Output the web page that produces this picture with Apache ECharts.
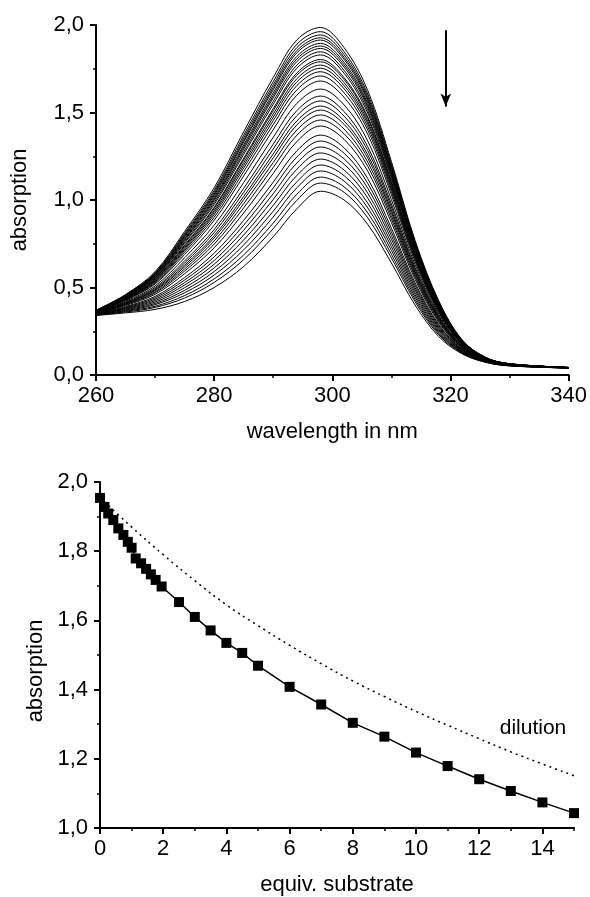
<!DOCTYPE html>
<html>
<head>
<meta charset="utf-8">
<script src="https://cdn.jsdelivr.net/npm/echarts@6/dist/echarts.min.js"></script>
<style>
  html, body { margin: 0; padding: 0; background: #fff; }
  #chart { width: 590px; height: 897px; }
</style>
</head>
<body>
<div id="chart"></div>
<script>
// top panel: absorption spectra during the titration
const wavelengths = [260, 265, 270, 275, 280, 285, 290, 294, 298, 302, 306, 310, 314, 318, 322, 326, 330, 340]
const spectra = [
  [0.370, 0.460, 0.590, 0.820, 1.070, 1.390, 1.700, 1.915, 1.986, 1.870, 1.625, 1.220, 0.770, 0.425, 0.200, 0.100, 0.065, 0.043],
  [0.369, 0.457, 0.584, 0.810, 1.055, 1.370, 1.676, 1.890, 1.962, 1.847, 1.605, 1.205, 0.760, 0.420, 0.198, 0.099, 0.064, 0.043],
  [0.369, 0.455, 0.580, 0.802, 1.044, 1.355, 1.658, 1.871, 1.943, 1.830, 1.590, 1.193, 0.753, 0.416, 0.196, 0.099, 0.064, 0.043],
  [0.368, 0.453, 0.576, 0.795, 1.034, 1.341, 1.643, 1.854, 1.927, 1.815, 1.577, 1.183, 0.747, 0.412, 0.195, 0.098, 0.064, 0.043],
  [0.368, 0.452, 0.573, 0.789, 1.026, 1.331, 1.630, 1.841, 1.914, 1.803, 1.566, 1.175, 0.742, 0.409, 0.194, 0.098, 0.064, 0.043],
  [0.367, 0.450, 0.569, 0.781, 1.015, 1.315, 1.612, 1.821, 1.895, 1.786, 1.551, 1.164, 0.734, 0.405, 0.192, 0.097, 0.064, 0.043],
  [0.367, 0.448, 0.566, 0.775, 1.006, 1.303, 1.597, 1.806, 1.880, 1.772, 1.539, 1.154, 0.728, 0.402, 0.191, 0.097, 0.064, 0.043],
  [0.366, 0.447, 0.562, 0.769, 0.997, 1.291, 1.584, 1.791, 1.866, 1.759, 1.527, 1.146, 0.723, 0.399, 0.190, 0.096, 0.063, 0.043],
  [0.366, 0.444, 0.558, 0.760, 0.985, 1.275, 1.564, 1.771, 1.847, 1.740, 1.511, 1.134, 0.715, 0.394, 0.188, 0.096, 0.063, 0.043],
  [0.365, 0.442, 0.554, 0.753, 0.974, 1.261, 1.547, 1.753, 1.829, 1.724, 1.496, 1.123, 0.708, 0.391, 0.187, 0.095, 0.063, 0.042],
  [0.364, 0.439, 0.548, 0.742, 0.958, 1.239, 1.522, 1.726, 1.803, 1.699, 1.475, 1.106, 0.697, 0.385, 0.184, 0.095, 0.062, 0.042],
  [0.364, 0.438, 0.545, 0.736, 0.951, 1.229, 1.510, 1.713, 1.790, 1.688, 1.465, 1.099, 0.693, 0.382, 0.183, 0.094, 0.062, 0.042],
  [0.363, 0.436, 0.541, 0.728, 0.939, 1.213, 1.491, 1.693, 1.771, 1.670, 1.449, 1.087, 0.685, 0.378, 0.182, 0.094, 0.062, 0.042],
  [0.363, 0.434, 0.536, 0.720, 0.928, 1.198, 1.473, 1.675, 1.753, 1.653, 1.435, 1.076, 0.678, 0.374, 0.180, 0.093, 0.062, 0.042],
  [0.362, 0.432, 0.532, 0.712, 0.916, 1.182, 1.454, 1.654, 1.733, 1.635, 1.418, 1.063, 0.670, 0.370, 0.178, 0.092, 0.061, 0.042],
  [0.361, 0.429, 0.526, 0.702, 0.901, 1.162, 1.431, 1.629, 1.709, 1.612, 1.399, 1.048, 0.660, 0.364, 0.176, 0.092, 0.061, 0.042],
  [0.360, 0.426, 0.520, 0.689, 0.884, 1.138, 1.402, 1.599, 1.680, 1.586, 1.375, 1.030, 0.649, 0.358, 0.174, 0.091, 0.061, 0.042],
  [0.359, 0.421, 0.509, 0.670, 0.856, 1.100, 1.358, 1.552, 1.634, 1.543, 1.337, 1.002, 0.631, 0.348, 0.170, 0.089, 0.060, 0.042],
  [0.357, 0.416, 0.500, 0.652, 0.831, 1.067, 1.319, 1.511, 1.594, 1.505, 1.304, 0.977, 0.615, 0.339, 0.166, 0.088, 0.060, 0.042],
  [0.357, 0.413, 0.493, 0.640, 0.814, 1.044, 1.291, 1.482, 1.566, 1.479, 1.282, 0.960, 0.604, 0.333, 0.164, 0.087, 0.059, 0.042],
  [0.356, 0.410, 0.487, 0.628, 0.796, 1.020, 1.263, 1.452, 1.537, 1.452, 1.258, 0.942, 0.592, 0.327, 0.162, 0.087, 0.059, 0.042],
  [0.355, 0.407, 0.482, 0.618, 0.783, 1.002, 1.241, 1.429, 1.514, 1.432, 1.239, 0.928, 0.584, 0.322, 0.160, 0.086, 0.058, 0.041],
  [0.354, 0.404, 0.475, 0.606, 0.766, 0.979, 1.214, 1.400, 1.486, 1.405, 1.216, 0.910, 0.572, 0.316, 0.157, 0.085, 0.058, 0.041],
  [0.353, 0.401, 0.469, 0.594, 0.748, 0.955, 1.186, 1.370, 1.457, 1.378, 1.193, 0.892, 0.561, 0.309, 0.155, 0.084, 0.058, 0.041],
  [0.352, 0.397, 0.461, 0.579, 0.727, 0.926, 1.152, 1.334, 1.423, 1.346, 1.164, 0.871, 0.547, 0.302, 0.152, 0.083, 0.057, 0.041],
  [0.350, 0.391, 0.449, 0.557, 0.696, 0.884, 1.102, 1.281, 1.371, 1.298, 1.122, 0.839, 0.527, 0.290, 0.147, 0.082, 0.056, 0.041],
  [0.349, 0.387, 0.441, 0.543, 0.675, 0.856, 1.069, 1.246, 1.337, 1.267, 1.095, 0.818, 0.514, 0.283, 0.145, 0.081, 0.056, 0.041],
  [0.348, 0.383, 0.433, 0.528, 0.654, 0.828, 1.036, 1.211, 1.303, 1.235, 1.067, 0.797, 0.500, 0.275, 0.142, 0.080, 0.056, 0.041],
  [0.347, 0.380, 0.425, 0.514, 0.633, 0.800, 1.003, 1.176, 1.269, 1.204, 1.039, 0.776, 0.487, 0.268, 0.139, 0.079, 0.055, 0.041],
  [0.346, 0.376, 0.417, 0.499, 0.612, 0.772, 0.969, 1.140, 1.234, 1.171, 1.011, 0.754, 0.473, 0.260, 0.136, 0.078, 0.055, 0.041],
  [0.345, 0.372, 0.409, 0.484, 0.591, 0.743, 0.936, 1.104, 1.200, 1.139, 0.982, 0.733, 0.459, 0.253, 0.133, 0.076, 0.054, 0.040],
  [0.344, 0.368, 0.402, 0.470, 0.571, 0.715, 0.903, 1.070, 1.166, 1.108, 0.955, 0.712, 0.446, 0.245, 0.130, 0.075, 0.054, 0.040],
  [0.343, 0.364, 0.393, 0.454, 0.549, 0.686, 0.868, 1.033, 1.131, 1.075, 0.926, 0.690, 0.432, 0.238, 0.127, 0.074, 0.053, 0.040],
  [0.342, 0.360, 0.386, 0.440, 0.529, 0.659, 0.836, 0.998, 1.097, 1.044, 0.898, 0.669, 0.419, 0.230, 0.124, 0.073, 0.053, 0.040],
  [0.340, 0.355, 0.375, 0.420, 0.500, 0.620, 0.790, 0.950, 1.050, 1.000, 0.860, 0.640, 0.400, 0.220, 0.120, 0.072, 0.052, 0.040]
]
// arrow showing the direction of change (nm, absorption)
const arrowFrom = [319.2, 1.97]
const arrowTo = [319.2, 1.535]

// bottom panel: absorption at the maximum vs equivalents of substrate
const equiv = [0, 0.14, 0.26, 0.42, 0.58, 0.74, 0.88, 1.0, 1.13, 1.3, 1.46, 1.61, 1.76, 1.95,
  2.5, 3, 3.5, 4, 4.5, 5, 6, 7, 8, 9, 10, 11, 12, 13, 14, 15]
const absorbance = [1.954, 1.928, 1.909, 1.890, 1.866, 1.847, 1.827, 1.810, 1.779, 1.765, 1.749, 1.733, 1.717, 1.698,
  1.653, 1.610, 1.571, 1.535, 1.506, 1.469, 1.408, 1.357, 1.304, 1.264, 1.218, 1.179, 1.141, 1.107, 1.074, 1.043]
const dilutionX = [0, 1, 2, 3, 4, 5, 6, 7, 8, 9, 10, 11, 12, 13, 14, 15]
const dilutionY = [1.955, 1.87, 1.79, 1.715, 1.645, 1.585, 1.528, 1.475, 1.425, 1.38, 1.337, 1.297, 1.258, 1.22, 1.185, 1.151]
const equivTicks = [0, 2, 4, 6, 8, 10, 12, 14]

const FONT = 'Liberation Sans, Arial, sans-serif'
const comma = v => v.toFixed(1).replace('.', ',')

const axisBase = {
  axisLine: { lineStyle: { color: '#000', width: 2 } },
  axisTick: { inside: false, length: 6, lineStyle: { color: '#000', width: 2 } },
  minorTick: { show: true, splitNumber: 2, length: 3, lineStyle: { color: '#000', width: 1.5 } },
  splitLine: { show: false },
  minorSplitLine: { show: false },
  axisLabel: { color: '#000', fontSize: 22, fontFamily: FONT },
  nameLocation: 'middle',
  nameTextStyle: { color: '#000', fontSize: 22, fontFamily: FONT }
}

const spectraSeries = spectra.map((row, i) => ({
  type: 'line',
  xAxisIndex: 0,
  yAxisIndex: 0,
  data: wavelengths.map((w, j) => [w, row[j]]),
  showSymbol: false,
  smooth: 0.35,
  lineStyle: { color: '#000', width: 1 },
  silent: true,
  z: 2,
  markLine: i === 0 ? {
    silent: true,
    symbol: ['none', 'arrow'],
    symbolSize: [8, 13],
    label: { show: false },
    lineStyle: { color: '#000', width: 2, type: 'solid' },
    data: [[{ coord: arrowFrom }, { coord: arrowTo }]]
  } : undefined
}))

const chart = echarts.init(document.getElementById('chart'), null, { renderer: 'canvas' })

const option = {
  animation: false,
  backgroundColor: '#fff',
  grid: [
    { left: 96, top: 25, width: 474, height: 350 },
    { left: 100, top: 482, width: 474, height: 347 }
  ],
  xAxis: [
    Object.assign({}, axisBase, {
      type: 'value', gridIndex: 0, min: 260, max: 340, interval: 20,
      name: 'wavelength in nm', nameGap: 46,
      axisLabel: Object.assign({}, axisBase.axisLabel, { margin: 10 })
    }),
    Object.assign({}, axisBase, {
      type: 'value', gridIndex: 1, min: 0, max: 15, interval: 2,
      name: 'equiv. substrate', nameGap: 46,
      minorTick: { show: false },
      axisTick: Object.assign({}, axisBase.axisTick, { customValues: equivTicks }),
      axisLabel: Object.assign({}, axisBase.axisLabel, { margin: 10, customValues: equivTicks })
    }),
    {
      // short ticks at every unit of the lower x axis
      type: 'value', gridIndex: 1, position: 'bottom', min: 0, max: 15, interval: 1,
      axisLine: { show: false },
      axisLabel: { show: false },
      splitLine: { show: false },
      axisTick: { length: 3, lineStyle: { color: '#000', width: 1.5 } }
    }
  ],
  yAxis: [
    Object.assign({}, axisBase, {
      type: 'value', gridIndex: 0, min: 0, max: 2, interval: 0.5,
      name: 'absorption', nameGap: 65,
      axisLabel: Object.assign({}, axisBase.axisLabel, { margin: 12, formatter: comma })
    }),
    Object.assign({}, axisBase, {
      type: 'value', gridIndex: 1, min: 1, max: 2, interval: 0.2,
      name: 'absorption', nameGap: 52,
      nameTextStyle: Object.assign({}, axisBase.nameTextStyle, { padding: [0, 32, 0, 0] }),
      axisLabel: Object.assign({}, axisBase.axisLabel, { margin: 12, formatter: comma })
    })
  ],
  series: spectraSeries.concat([
    {
      name: 'dilution',
      type: 'line',
      xAxisIndex: 1,
      yAxisIndex: 1,
      data: dilutionX.map((x, i) => [x, dilutionY[i]]),
      showSymbol: false,
      smooth: true,
      lineStyle: { color: '#000', width: 1.5, type: [2, 4] },
      silent: true
    },
    {
      name: 'substrate',
      type: 'line',
      xAxisIndex: 1,
      yAxisIndex: 1,
      data: equiv.map((x, i) => [x, absorbance[i]]),
      symbol: 'rect',
      symbolSize: 10,
      showAllSymbol: true,
      itemStyle: { color: '#000' },
      lineStyle: { color: '#000', width: 1.5 },
      silent: true
    }
  ]),
  graphic: [
    {
      type: 'text',
      x: 533,
      y: 728,
      style: {
        text: 'dilution',
        fill: '#000',
        font: '21px ' + FONT,
        align: 'center',
        verticalAlign: 'middle'
      }
    }
  ]
}

chart.setOption(option)
</script>
</body>
</html>
